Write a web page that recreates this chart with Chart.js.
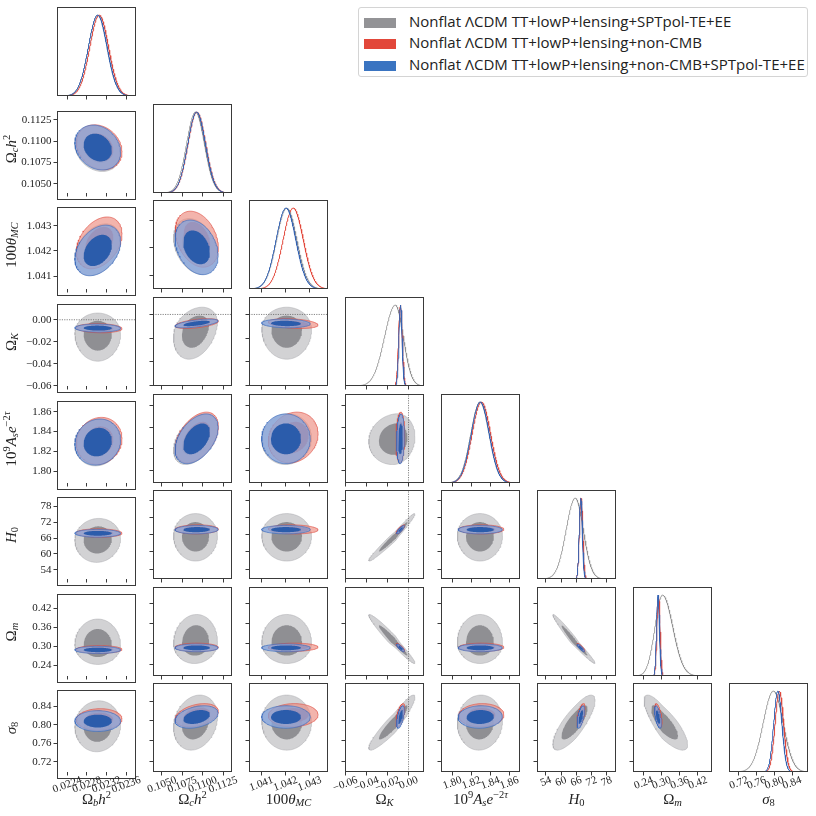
<!DOCTYPE html>
<html>
<head>
<meta charset="utf-8">
<script src="https://cdn.jsdelivr.net/npm/chart.js@4.4.1/dist/chart.umd.min.js"></script>
<style>
  html, body { margin: 0; padding: 0; background: #fff; }
  #fig { position: relative; width: 816px; height: 816px; overflow: hidden; }
  #fig canvas { position: absolute; }
  .ttl { position: absolute; font-family: "Liberation Serif", serif; font-size: 15px; color: #222;
         white-space: nowrap; line-height: 1; transform: translate(-50%, -50%); }
  .ttl.y { transform: translate(-50%, -50%) rotate(-90deg); }
  .ttl sub, .ttl sup { font-size: 0.7em; line-height: 0; }
  .ttl sub { vertical-align: -0.25em; }
  .ttl sup { vertical-align: 0.55em; }
  #legend { position: absolute; left: 358px; top: 7px; width: 450px; height: 70px; box-sizing: border-box;
            border: 1px solid #d4d4d4; border-radius: 3px; background: #fff;
            font-family: "Open Sans", sans-serif; font-size: 15px; color: #222; }
  #legend .row { position: absolute; left: 5px; height: 20px; line-height: 20px; white-space: nowrap; }
  #legend .sw { display: inline-block; width: 32px; height: 10px; vertical-align: -1px; margin-right: 13px; }
</style>
</head>
<body>
<div id="fig"></div>
<script>
// legend
const chainLabels = [
  "Nonflat \u039BCDM TT+lowP+lensing+SPTpol-TE+EE",
  "Nonflat \u039BCDM TT+lowP+lensing+non-CMB",
  "Nonflat \u039BCDM TT+lowP+lensing+non-CMB+SPTpol-TE+EE"
];
const chainColors = ["#939396", "#e2473a", "#3a74c1"];

// parameters: Ωbh², Ωch², 100θMC, ΩK, 10⁹Ase^-2τ, H0, Ωm, σ8
const axisTitles = [
  "\u03A9<sub><i>b</i></sub><i>h</i><sup>2</sup>",
  "\u03A9<sub><i>c</i></sub><i>h</i><sup>2</sup>",
  "100<i>\u03B8</i><sub><i>MC</i></sub>",
  "\u03A9<sub><i>K</i></sub>",
  "10<sup>9</sup><i>A</i><sub><i>s</i></sub><i>e</i><sup>\u22122<i>\u03C4</i></sup>",
  "<i>H</i><sub>0</sub>",
  "\u03A9<sub><i>m</i></sub>",
  "<i>\u03C3</i><sub>8</sub>"
];
const axisMin = [0.02219, 0.10390, 1.04049, -0.0603, 1.7880, 50.5, 0.2050, 0.6980];
const axisMax = [0.02380, 0.11360, 1.04376, 0.0147, 1.8712, 81.7, 0.4672, 0.8760];
const tickValues = [
  [0.0224, 0.0228, 0.0232, 0.0236],
  [0.1050, 0.1075, 0.1100, 0.1125],
  [1.041, 1.042, 1.043],
  [-0.06, -0.04, -0.02, 0.00],
  [1.80, 1.82, 1.84, 1.86],
  [54, 60, 66, 72, 78],
  [0.24, 0.30, 0.36, 0.42],
  [0.72, 0.76, 0.80, 0.84]
];
const tickLabels = [
  ["0.0224", "0.0228", "0.0232", "0.0236"],
  ["0.1050", "0.1075", "0.1100", "0.1125"],
  ["1.041", "1.042", "1.043"],
  ["\u22120.06", "\u22120.04", "\u22120.02", "0.00"],
  ["1.80", "1.82", "1.84", "1.86"],
  ["54", "60", "66", "72", "78"],
  ["0.24", "0.30", "0.36", "0.42"],
  ["0.72", "0.76", "0.80", "0.84"]
];

// grey chain (skewed: lower / upper widths)
const greyMean = [0.02302, 0.10912, 1.04205, -0.0125, 1.8290, 65.6, 0.303, 0.798];
const greyLo   = [0.00019, 0.00110, 0.00042, 0.0103, 0.0097, 3.6, 0.025, 0.023];
const greyHi   = [0.00019, 0.00110, 0.00042, 0.0076, 0.0097, 3.2, 0.034, 0.022];
// red chain
const redMean  = [0.02305, 0.10928, 1.04232, -0.0077, 1.8305, 67.9, 0.2895, 0.8115];
const redSigma = [0.00019, 0.00108, 0.00042, 0.0017, 0.0097, 0.65, 0.0050, 0.0095];
// blue chain
const blueMean  = [0.02302, 0.10925, 1.04202, -0.0076, 1.8293, 67.8, 0.2880, 0.8080];
const blueSigma = [0.00019, 0.00108, 0.00041, 0.0015, 0.0095, 0.60, 0.0047, 0.0092];

// correlations, row j lists (param i, param j) for i < j
const greyCorr = [
  [],
  [-0.2],
  [0.35, -0.3],
  [0.0, 0.3, 0.0],
  [0.1, 0.45, 0.05, 0.1],
  [0.05, 0.0, 0.0, 0.98, 0.0],
  [0.0, 0.05, 0.0, -0.97, 0.0, -0.98],
  [0.05, 0.2, 0.0, 0.93, 0.05, 0.8, -0.8]
];
const redCorr = [
  [],
  [-0.2],
  [0.35, -0.3],
  [-0.1, 0.5, -0.3],
  [0.1, 0.45, 0.15, 0.1],
  [-0.05, 0.05, -0.1, 0.85, 0.0],
  [0.0, 0.0, 0.05, -0.85, 0.0, -0.9],
  [0.05, 0.35, 0.05, 0.6, 0.05, 0.6, -0.6]
];
const blueCorr = [
  [],
  [-0.2],
  [0.35, -0.3],
  [-0.05, 0.6, -0.1],
  [0.1, 0.45, 0.0, 0.1],
  [0.0, 0.05, 0.0, 0.85, 0.0],
  [0.0, 0.0, 0.0, -0.85, 0.0, -0.9],
  [0.0, 0.35, 0.0, 0.6, 0.05, 0.6, -0.6]
];

const X0 = 57, DX = 96, Y0 = 7.3, DY = 96.57, PW = 79, PH = 89;
const L = 56, R = 16, T = 2, B = 32;
const R68 = 1.515, R95 = 2.448;
const fig = document.getElementById("fig");

function contour(mx, my, sxl, sxh, syl, syh, rho, r) {
  const pts = [];
  const k = Math.sqrt(1 - rho * rho);
  for (let n = 0; n <= 120; n++) {
    const t = 2 * Math.PI * n / 120;
    const u = r * Math.cos(t);
    const v = r * (rho * Math.cos(t) + k * Math.sin(t));
    pts.push({ x: mx + u * (u < 0 ? sxl : sxh), y: my + v * (v < 0 ? syl : syh) });
  }
  return pts;
}

function curve(m, lo, hi, p) {
  const pts = [];
  for (let n = 0; n <= 300; n++) {
    const x = axisMin[p] + (axisMax[p] - axisMin[p]) * n / 300;
    const d = x - m, s = d < 0 ? lo : hi;
    pts.push({ x: x, y: Math.exp(-0.5 * d * d / (s * s)) });
  }
  return pts;
}

function area(pts, fill, line, lw) {
  return { data: pts, fill: "shape", backgroundColor: fill, borderColor: line || "transparent",
           borderWidth: lw || 0, pointRadius: 0, tension: 0 };
}
function trace(pts, color, lw, dash) {
  return { data: pts, fill: false, borderColor: color, borderWidth: lw, borderDash: dash || [],
           pointRadius: 0, tension: 0 };
}

const frame = {
  id: "frame",
  afterDatasetsDraw(chart) {
    const a = chart.chartArea, ctx = chart.ctx;
    ctx.save();
    ctx.strokeStyle = "#3a3a3a";
    ctx.lineWidth = 1;
    ctx.strokeRect(Math.round(a.left) + 0.5, Math.round(a.top) + 0.5, PW - 1, PH - 1);
    ctx.restore();
  }
};

function xTickText(p) {
  return {
    id: "xTickText",
    afterDraw(chart) {
      const ctx = chart.ctx, sc = chart.scales.x, a = chart.chartArea;
      const ang = 20 * Math.PI / 180;
      ctx.save();
      ctx.font = '11px "Liberation Serif"';
      ctx.fillStyle = "#222";
      ctx.textAlign = "center";
      ctx.textBaseline = "middle";
      tickValues[p].forEach((v, k) => {
        const w = ctx.measureText(tickLabels[p][k]).width;
        const hb = w * Math.sin(ang) + 8 * Math.cos(ang);
        ctx.save();
        ctx.translate(sc.getPixelForValue(v), a.bottom + 4 + hb / 2);
        ctx.rotate(-ang);
        ctx.fillText(tickLabels[p][k], 0, 0);
        ctx.restore();
      });
      ctx.restore();
    }
  };
}

function makePanel(i, j) {
  const left = Math.round(X0 + i * DX), top = Math.round(Y0 + j * DY);
  const W = PW + L + R, H = PH + T + B;
  const canvas = document.createElement("canvas");
  canvas.width = W; canvas.height = H;
  canvas.style.left = (left - L) + "px";
  canvas.style.top = (top - T) + "px";
  canvas.style.width = W + "px";
  canvas.style.height = H + "px";
  fig.appendChild(canvas);

  const diag = i === j;
  let sets = [];
  if (diag) {
    sets.push(trace(curve(greyMean[i], greyLo[i], greyHi[i], i), "#8e8e8e", 0.8));
    sets.push(trace(curve(redMean[i], redSigma[i], redSigma[i], i), "#e2473a", 1));
    sets.push(trace(curve(blueMean[i], blueSigma[i], blueSigma[i], i), "#3564b4", 1));
  } else {
    const gc = greyCorr[j][i], rc = redCorr[j][i], bc = blueCorr[j][i];
    const g = r => contour(greyMean[i], greyMean[j], greyLo[i], greyHi[i], greyLo[j], greyHi[j], gc, r);
    const rd = r => contour(redMean[i], redMean[j], redSigma[i], redSigma[i], redSigma[j], redSigma[j], rc, r);
    const bl = r => contour(blueMean[i], blueMean[j], blueSigma[i], blueSigma[i], blueSigma[j], blueSigma[j], bc, r);
    sets.push(area(g(R95), "#d2d2d4", "rgba(160,160,165,0.7)", 0.6));
    sets.push(area(g(R68), "#8f8f93"));
    sets.push(area(rd(R95), "rgba(236,140,128,0.65)", "rgba(222,70,58,0.85)", 0.7));
    sets.push(area(rd(R68), "rgba(220,75,60,0.85)"));
    sets.push(area(bl(R95), "rgba(135,165,220,0.78)", "rgba(55,105,190,0.9)", 0.7));
    sets.push(area(bl(R68), "rgba(37,89,170,0.95)"));
    if (j === 3) {
      sets.push(trace([{ x: axisMin[i], y: 0 }, { x: axisMax[i], y: 0 }], "#666", 0.8, [1.2, 1.2]));
    }
    if (i === 3) {
      sets.push(trace([{ x: 0, y: axisMin[j] }, { x: 0, y: axisMax[j] }], "#666", 0.8, [1.2, 1.2]));
    }
  }
  sets.forEach((s, k) => { s.order = sets.length - k; });

  const tickGrid = { drawOnChartArea: false, drawTicks: true, tickLength: 3.5, color: "#3a3a3a", lineWidth: 1 };
  const yScale = diag ? {
    type: "linear", min: 0, max: 1.1, bounds: "data",
    grid: { display: false }, border: { display: false }, ticks: { display: false },
    afterFit(s) { s.width = L; }
  } : {
    type: "linear", min: axisMin[j], max: axisMax[j], bounds: "data",
    grid: tickGrid, border: { display: false },
    afterBuildTicks(s) { s.ticks = tickValues[j].map(v => ({ value: v })); },
    ticks: {
      display: i === 0, autoSkip: false, padding: 2, color: "#222",
      font: { family: "Liberation Serif", size: 11 },
      callback: (v, k) => tickLabels[j][k]
    },
    afterFit(s) { s.width = L; }
  };

  const plugins = [frame];
  if (j === 7) plugins.push(xTickText(i));

  new Chart(canvas, {
    type: "line",
    data: { datasets: sets },
    options: {
      responsive: false, animation: false, devicePixelRatio: 1,
      layout: { padding: { top: T, right: R, left: 0, bottom: 0 } },
      plugins: { legend: { display: false }, tooltip: { enabled: false } },
      scales: {
        x: {
          type: "linear", min: axisMin[i], max: axisMax[i], bounds: "data",
          grid: tickGrid, border: { display: false },
          afterBuildTicks(s) { s.ticks = tickValues[i].map(v => ({ value: v })); },
          ticks: { display: false },
          afterFit(s) { s.height = B; }
        },
        y: yScale
      }
    },
    plugins: plugins
  });
}

for (let j = 0; j < 8; j++) {
  for (let i = 0; i <= j; i++) makePanel(i, j);
}

// axis titles
for (let j = 1; j < 8; j++) {
  const d = document.createElement("div");
  d.className = "ttl y";
  d.innerHTML = axisTitles[j];
  d.style.left = "11px";
  d.style.top = (Math.round(Y0 + j * DY) + PH / 2) + "px";
  fig.appendChild(d);
}
for (let i = 0; i < 8; i++) {
  const d = document.createElement("div");
  d.className = "ttl";
  d.innerHTML = axisTitles[i];
  d.style.left = (Math.round(X0 + i * DX) + PW / 2) + "px";
  d.style.top = "799px";
  fig.appendChild(d);
}

// legend
const leg = document.createElement("div");
leg.id = "legend";
chainLabels.forEach((txt, k) => {
  const row = document.createElement("div");
  row.className = "row";
  row.style.top = (3 + k * 21.3) + "px";
  const sw = document.createElement("span");
  sw.className = "sw";
  sw.style.background = chainColors[k];
  row.appendChild(sw);
  row.appendChild(document.createTextNode(txt));
  leg.appendChild(row);
});
fig.appendChild(leg);
</script>
</body>
</html>
